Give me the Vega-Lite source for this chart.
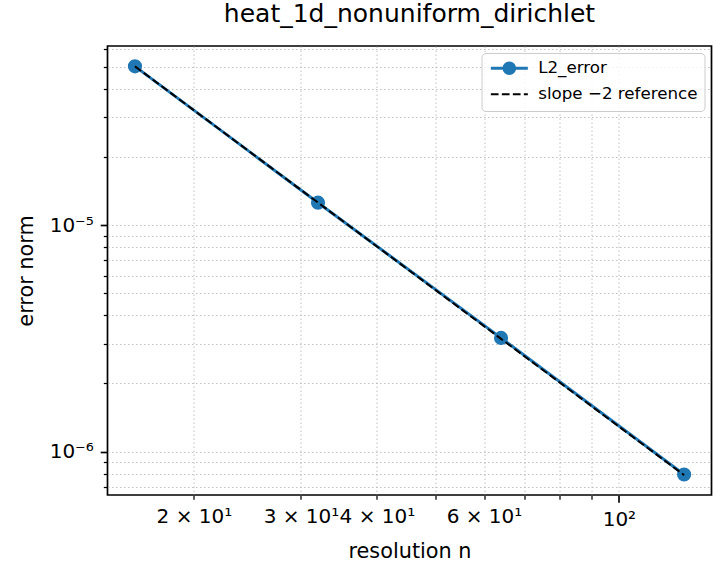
{
  "$schema": "https://vega.github.io/schema/vega-lite/v6.json",
  "autosize": "none",
  "width": 604,
  "height": 449,
  "padding": {"left": 107.5, "top": 46, "right": 15.5, "bottom": 85},
  "background": "white",
  "title": {
    "text": "heat_1d_nonuniform_dirichlet",
    "font": "DejaVu Sans",
    "fontSize": 25,
    "fontWeight": "normal",
    "color": "black",
    "anchor": "middle",
    "offset": 12
  },
  "config": {
    "view": {"stroke": "black", "strokeWidth": 1.7},
    "axis": {
      "domain": false,
      "labelFont": "DejaVu Sans",
      "labelFontSize": 20,
      "labelColor": "black",
      "titleFont": "DejaVu Sans",
      "titleFontSize": 20.8,
      "titleFontWeight": "normal",
      "titleColor": "black",
      "tickColor": "black",
      "grid": true,
      "gridColor": "#b0b0b0",
      "gridDash": [1.5, 2.5],
      "gridWidth": 0.8,
      "labelPadding": 7,
      "labelOverlap": false,
      "labelBound": false
    },
    "legend": {
      "title": null,
      "orient": "top-right",
      "offset": 7,
      "padding": 7,
      "strokeColor": "#cccccc",
      "fillColor": "rgba(255,255,255,0.8)",
      "cornerRadius": 4,
      "labelFont": "DejaVu Sans",
      "labelFontSize": 16.7,
      "labelColor": "black",
      "labelLimit": 220,
      "labelOffset": 20.5,
      "symbolOffset": 12.5,
      "symbolSize": 100,
      "symbolOpacity": 1,
      "symbolStrokeWidth": 0,
      "rowPadding": 8
    }
  },
  "data": {
    "values": [
      {"n": 16, "series": "L2_error", "error": 5.04e-5},
      {"n": 32, "series": "L2_error", "error": 1.259e-5},
      {"n": 64, "series": "L2_error", "error": 3.18e-6},
      {"n": 128, "series": "L2_error", "error": 7.92e-7},
      {"n": 16, "series": "slope −2 reference", "error": 5.04e-5},
      {"n": 32, "series": "slope −2 reference", "error": 1.26e-5},
      {"n": 64, "series": "slope −2 reference", "error": 3.15e-6},
      {"n": 128, "series": "slope −2 reference", "error": 7.875e-7}
    ]
  },
  "encoding": {
    "x": {
      "field": "n",
      "type": "quantitative",
      "title": "resolution n",
      "scale": {"type": "log", "domain": [14.42, 142.0], "nice": false},
      "axis": {
        "values": [20, 30, 40, 50, 60, 70, 80, 90, 100],
        "labelExpr": "datum.value == 100 ? '10²' : (datum.value == 20 || datum.value == 30 || datum.value == 40 || datum.value == 60) ? (datum.value / 10) + ' × 10¹' : ''",
        "tickSize": {"condition": {"test": "datum.value == 100", "value": 7.3}, "value": 4.2},
        "tickWidth": {"condition": {"test": "datum.value == 100", "value": 1.67}, "value": 1.25},
        "titlePadding": 12
      }
    },
    "y": {
      "field": "error",
      "type": "quantitative",
      "title": "error norm",
      "scale": {"type": "log", "domain": [6.43e-7, 6.2e-5], "nice": false},
      "axis": {
        "values": [7e-7, 8e-7, 9e-7, 1e-6, 2e-6, 3e-6, 4e-6, 5e-6, 6e-6, 7e-6, 8e-6, 9e-6, 1e-5, 2e-5, 3e-5, 4e-5, 5e-5, 6e-5],
        "labelExpr": "datum.value == 1e-5 ? '10⁻⁵' : datum.value == 1e-6 ? '10⁻⁶' : ''",
        "tickSize": {"condition": {"test": "datum.value == 1e-5 || datum.value == 1e-6", "value": 7.3}, "value": 4.2},
        "tickWidth": {"condition": {"test": "datum.value == 1e-5 || datum.value == 1e-6", "value": 1.67}, "value": 1.25},
        "titlePadding": 13
      }
    }
  },
  "layer": [
    {
      "transform": [{"filter": "datum.series == 'L2_error'"}],
      "mark": {"type": "line", "color": "#1f77b4", "strokeWidth": 3},
      "encoding": {}
    },
    {
      "transform": [{"filter": "datum.series == 'L2_error'"}],
      "mark": {"type": "point", "filled": true, "size": 200, "opacity": 1, "color": "#1f77b4"},
      "encoding": {}
    },
    {
      "transform": [{"filter": "datum.series == 'slope −2 reference'"}],
      "mark": {"type": "line", "color": "black", "strokeWidth": 2, "strokeDash": [7.7, 3.3]},
      "encoding": {}
    },
    {
      "mark": {"type": "point", "filled": true, "opacity": 0},
      "encoding": {
        "color": {
          "field": "series",
          "type": "nominal",
          "scale": {"domain": ["L2_error", "slope −2 reference"], "range": ["#1f77b4", "black"]},
          "legend": {"symbolOpacity": 1, "symbolStrokeWidth": 0}
        },
        "shape": {
          "field": "series",
          "type": "nominal",
          "scale": {
            "domain": ["L2_error", "slope −2 reference"],
            "range": [
              "M-3.7,-0.3L-1.32,-0.3L-1.32,0.3L-3.7,0.3ZM1.32,-0.3L3.7,-0.3L3.7,0.3L1.32,0.3ZM1.35,0A1.35,1.35,0,1,1,-1.35,0A1.35,1.35,0,1,1,1.35,0Z",
              "M-3.7,-0.2L-2.16,-0.2L-2.16,0.2L-3.7,0.2ZM-1.5,-0.2L0.04,-0.2L0.04,0.2L-1.5,0.2ZM0.7,-0.2L2.24,-0.2L2.24,0.2L0.7,0.2ZM2.9,-0.2L3.7,-0.2L3.7,0.2L2.9,0.2Z"
            ]
          },
          "legend": {"symbolOpacity": 1, "symbolStrokeWidth": 0}
        }
      }
    }
  ]
}
